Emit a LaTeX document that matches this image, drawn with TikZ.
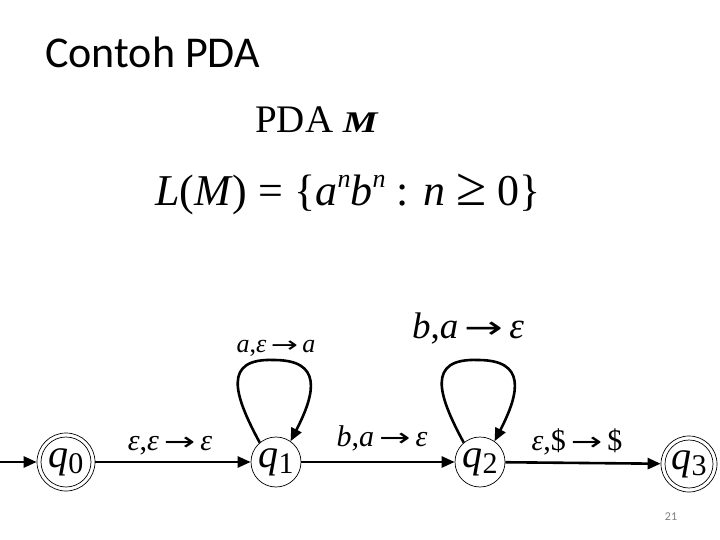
\documentclass[tikz,border=0pt]{standalone}
\usepackage{fontspec}
\setmainfont{Liberation Serif}
\newfontfamily\titlefont{Carlito}
\newfontfamily\arrfont{DejaVu Sans}
\usetikzlibrary{arrows.meta,calc}
\newcommand\myeps{\textit{ε}}
\newcommand\myarr{\,\scalebox{1.25}[0.85]{\arrfont →}\,}
\newcommand\supn{\raisebox{0.42em}{\fontsize{26}{26}\selectfont\textit{n}}}
\newcommand\qlab[1]{\fontsize{40}{40}\selectfont\textit{q}\raisebox{-6pt}{\fontsize{30}{30}\selectfont #1}}
\begin{document}
\begin{tikzpicture}[x=1pt,y=-1pt,
  state/.style={circle,draw,line width=0.7pt,minimum size=50pt,inner sep=0pt},
  accept/.style={state,minimum size=58pt},
  edge/.style={line width=2.6pt,-{Triangle[length=13pt,width=11pt]}},
  lbl/.style={anchor=base,inner sep=0pt}]
\useasboundingbox[fill=white] (0,0) rectangle (720,540);
% titles
\node[anchor=base west,inner sep=0pt,font=\titlefont\fontsize{44}{50}\selectfont] (title) at (45,68) {Contoh PDA};
\node[anchor=base west,inner sep=0pt,font=\fontsize{39}{44}\selectfont] (pda) at (255,133) {PDA \scalebox{1.3}[1]{\textbf{\textit{\fontsize{30}{30}\selectfont M}}}};
\node[anchor=base west,inner sep=0pt,font=\fontsize{44}{48}\selectfont] (lang) at (155,206)
  {\textit{L}(\textit{M}) = \{\textit{a}\supn\textit{b}\supn\ : \textit{n} \scalebox{1.25}{≥} 0\}};
% states
\node[accept] (q0) at (66,462) {\qlab{0}};
\draw[line width=0.7pt] (q0.center) circle[radius=25];
\node[state] (q1) at (276,462) {\qlab{1}};
\node[state] (q2) at (480,462) {\qlab{2}};
\node[accept,minimum size=56pt] (q3) at (689,464) {\qlab{3}};
\draw[line width=0.7pt] (q3.center) circle[radius=24];
% edges
\coordinate (start) at (0,462);
\draw[edge] (start) -- (q0);
\draw[edge] (q0) -- (q1);
\draw[edge] (q1) -- (q2);
\draw[edge] (q2) -- (q3);
\draw[edge] (q1.130) .. controls ($(q1)+(-42,-67)$) and ($(q1)+(-54,-104)$) .. ($(q1)+(-2,-102)$)
  .. controls ($(q1)+(46,-102)$) and ($(q1)+(40,-70)$) .. (q1.55);
\draw[edge] (q2.130) .. controls ($(q2)+(-42,-67)$) and ($(q2)+(-54,-104)$) .. ($(q2)+(-2,-102)$)
  .. controls ($(q2)+(46,-102)$) and ($(q2)+(40,-70)$) .. (q2.55);
% labels
\node[lbl,font=\fontsize{30}{30}\selectfont] (l01) at (170,450) {\myeps,\myeps\myarr\myeps};
\node[lbl,font=\fontsize{26}{26}\selectfont] (l11) at (276,352) {\textit{a},\myeps\myarr\textit{a}};
\node[lbl,font=\fontsize{30}{30}\selectfont] (l12) at (382,446) {\textit{b},\textit{a}\myarr\myeps};
\node[lbl,font=\fontsize{37}{37}\selectfont] (l22) at (468,338) {\textit{b},\textit{a}\myarr\myeps};
\node[lbl,font=\fontsize{30}{30}\selectfont] (l23) at (577,450) {\myeps,\$\myarr\$};
\node[anchor=base,inner sep=0pt,text=gray,font=\titlefont\fontsize{12}{12}\selectfont] (pg) at (671,520) {21};
\end{tikzpicture}
\end{document}
